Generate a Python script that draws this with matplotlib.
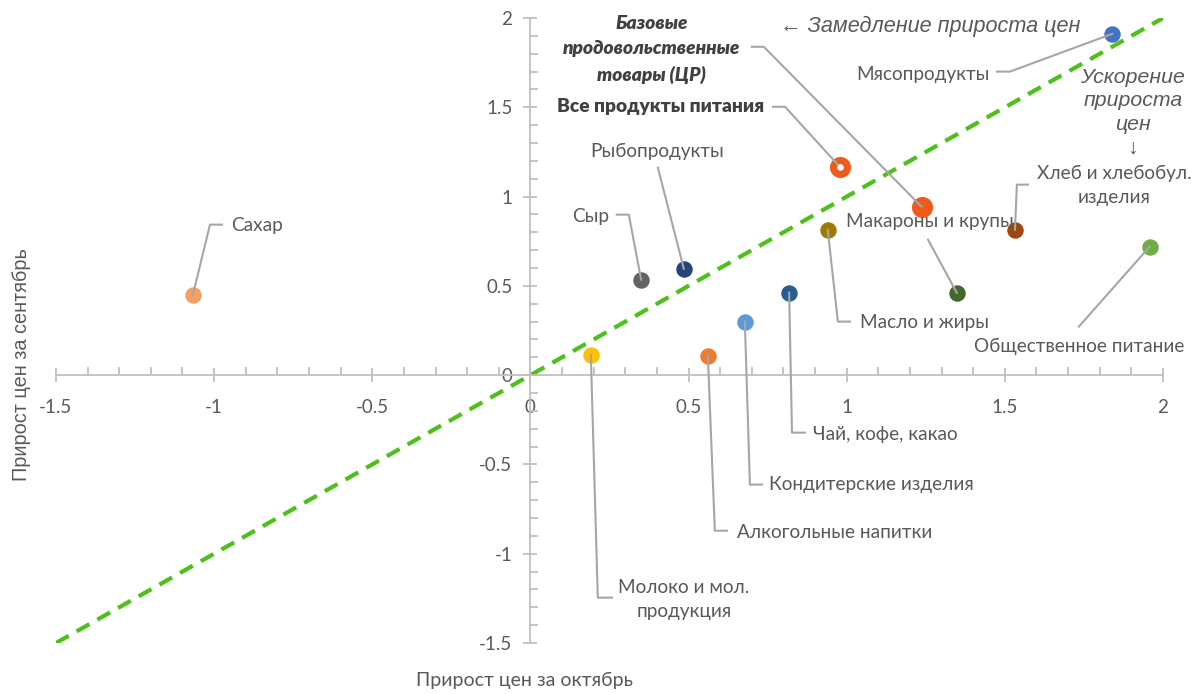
import matplotlib.pyplot as plt
from matplotlib.ticker import MultipleLocator

# growth of prices: october (x) vs september (y)
names = ["Мясопродукты", "Базовые\nпродовольственные\nтовары (ЦР)", "Все продукты питания",
         "Рыбопродукты", "Сыр", "Сахар", "Масло и жиры", "Макароны и крупы",
         "Хлеб и хлебобул.\nизделия", "Общественное питание", "Чай, кофе, какао",
         "Кондитерские изделия", "Алкогольные напитки", "Молоко и мол.\nпродукция"]
oct_vals = [1.84, 1.237, 0.978, 0.485, 0.35, -1.067, 0.94, 1.348, 1.532, 1.958, 0.818, 0.678, 0.561, 0.191]
sep_vals = [1.912, 0.943, 1.167, 0.596, 0.535, 0.451, 0.815, 0.461, 0.815, 0.72, 0.462, 0.30, 0.109, 0.115]
colors = ["#4472C4", "#F05A1A", "#F05A1A", "#264478", "#636363", "#F4A062", "#9E7A00", "#43682B",
          "#9E480E", "#70AD47", "#255E91", "#5B9BD5", "#ED7D31", "#FFC000"]

# label layout: text pos, alignment, leader path (before the point), bold
layout = [
    ((1.453, 1.683), "right", [(1.475, 1.70), (1.516, 1.70)], False),
    ((0.384, 1.823), "center", [(0.700, 1.839), (0.738, 1.839)], True),
    ((0.738, 1.503), "right", [(0.767, 1.503), (0.805, 1.503)], True),
    ((0.400, 1.251), "center", [(0.403, 1.162)], False),
    ((0.248, 0.887), "right", [(0.273, 0.899), (0.311, 0.899)], False),
    ((-0.947, 0.837), "left", [(-0.975, 0.843), (-1.013, 0.843)], False),
    ((1.042, 0.294), "left", [(1.010, 0.300), (0.972, 0.300)], False),
    ((0.997, 0.859), "left", [(1.257, 0.759)], False),
    ((1.845, 1.061), "center", [(1.573, 1.067), (1.538, 1.067)], False),
    ((1.734, 0.160), "center", [(1.734, 0.272)], False),
    ((0.893, -0.333), "left", [(0.868, -0.322), (0.827, -0.322)], False),
    ((0.754, -0.613), "left", [(0.732, -0.613), (0.694, -0.613)], False),
    ((0.653, -0.882), "left", [(0.621, -0.871), (0.583, -0.871)], False),
    ((0.485, -1.257), "center", [(0.258, -1.246), (0.213, -1.246)], False),
]
big = [False, True, True] + [False] * 11

txt_col = "#595959"
fig = plt.figure(figsize=(11.91, 6.94), dpi=100)
ax = fig.add_axes([0.047, 0.0735, 0.9295, 0.9005])
ax.set_xlim(-1.5, 2)
ax.set_ylim(-1.5, 2)

for s in ["top", "right"]:
    ax.spines[s].set_visible(False)
for s in ["left", "bottom"]:
    ax.spines[s].set_position("zero")
    ax.spines[s].set_color("#BFBFBF")
    ax.spines[s].set_linewidth(1.3)

ax.xaxis.set_major_locator(MultipleLocator(0.5))
ax.yaxis.set_major_locator(MultipleLocator(0.5))
ax.xaxis.set_minor_locator(MultipleLocator(0.1))
ax.yaxis.set_minor_locator(MultipleLocator(0.1))
ax.tick_params(which="major", direction="inout", length=10, width=1.3, color="#BFBFBF",
               labelcolor=txt_col, labelsize=13.5)
ax.tick_params(which="minor", direction="in", length=6, width=1.3, color="#BFBFBF")
ax.tick_params(axis="x", which="major", pad=12)
ax.tick_params(axis="y", which="major", pad=8)
fmt = lambda v, p: "0" if abs(v) < 1e-9 else f"{v:g}"
ax.xaxis.set_major_formatter(fmt)
ax.yaxis.set_major_formatter(fmt)
for lab in ax.get_xticklabels() + ax.get_yticklabels():
    lab.set_family("Lato")

# diagonal
ax.plot([-1.5, 2], [-1.5, 2], color="#4DC01A", lw=3, ls=(0, (3.5, 2.2)), zorder=2)

for i in range(len(names)):
    x, y = oct_vals[i], sep_vals[i]
    (tx, ty), ha, path, bold = layout[i]
    px = [p[0] for p in path] + [x]
    py = [p[1] for p in path] + [y]
    ax.scatter(x, y, s=230 if big[i] else 140, color=colors[i], zorder=3, linewidths=0)
    ax.plot(px, py, color="#A6A6A6", lw=1.5, zorder=4)
    if bold:
        ax.text(tx, ty, names[i], ha=ha, va="center", fontsize=13.8, color="#404040",
                fontweight="heavy", style="italic" if "\n" in names[i] else "normal",
                family="Lato", linespacing=1.6, zorder=5)
    else:
        ax.text(tx, ty, names[i], ha=ha, va="center", fontsize=13.7, color=txt_col,
                family="Lato", linespacing=1.5, zorder=5)

# white center on "Все продукты питания"
ax.scatter(oct_vals[2], sep_vals[2], s=14, color="white", zorder=4.5)

ax.text(0.788, 1.951, "← Замедление прироста цен", ha="left", va="center",
        fontsize=15.6, style="italic", color=txt_col, family="Liberation Sans")
ax.text(1.905, 1.47, "Ускорение\nприроста\nцен\n↓", ha="center", va="center",
        fontsize=15.3, style="italic", color=txt_col, family=["Liberation Sans", "DejaVu Sans"],
        linespacing=1.3)

fig.text(525 / 1191, 1 - 680 / 694, "Прирост цен за октябрь", ha="center", va="center",
         fontsize=14, color=txt_col, family="Lato")
fig.text(22 / 1191, 1 - 365 / 694, "Прирост цен за сентябрь", ha="center", va="center",
         rotation=90, fontsize=14.3, color=txt_col, family="Liberation Sans")

plt.savefig("out.png", dpi=100)
